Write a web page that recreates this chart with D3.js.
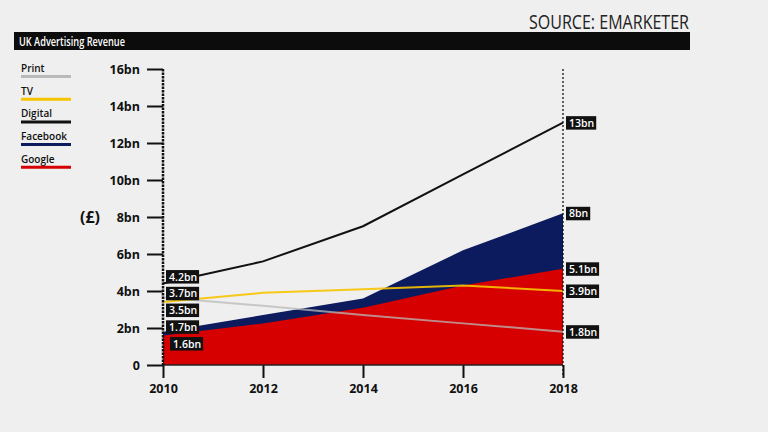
<!DOCTYPE html>
<html>
<head>
<meta charset="utf-8">
<script src="https://cdn.jsdelivr.net/npm/d3@7"></script>
<style>
  html, body { margin: 0; padding: 0; background: #efefef; }
  svg { display: block; }
  text { font-family: "Open Sans", "DejaVu Sans", sans-serif; }
</style>
</head>
<body>
<svg id="chart" width="768" height="432"></svg>
<script>
// ---------- DATA ----------
const years = [2010, 2012, 2014, 2016, 2018];
const printRev    = [3.65, 3.2, 2.7, 2.25, 1.8];
const tvRev       = [3.4, 3.9, 4.1, 4.3, 4.0];
const digitalRev  = [4.4, 5.6, 7.5, 10.3, 13.1];
const facebookRev = [1.8, 2.7, 3.6, 6.2, 8.2];
const googleRev   = [1.6, 2.25, 3.1, 4.3, 5.2];

const seriesNames = ["Print", "TV", "Digital", "Facebook", "Google"];
// start / end annotation values (as printed on the chart)
const startLabelsSeries = ["Digital", "TV", "Print", "Facebook", "Google"];
const startLabelValues  = [4.2, 3.7, 3.5, 1.7, 1.6];
const endLabelsSeries   = ["Digital", "Facebook", "Google", "TV", "Print"];
const endLabelValues    = [13, 8, 5.1, 3.9, 1.8];

const yTicks = [0, 2, 4, 6, 8, 10, 12, 14, 16];
const xTicks = [2010, 2012, 2014, 2016, 2018];

const titleText = "UK Advertising Revenue";
const sourceText = "SOURCE: EMARKETER";
const unitText = "(£)";

// ---------- SETUP ----------
const colors = {
  Print: "#b9b9b9",
  TV: "#f6c400",
  Digital: "#111111",
  Facebook: "#0c1a5e",
  Google: "#d60000"
};
const seriesData = {
  Print: printRev, TV: tvRev, Digital: digitalRev, Facebook: facebookRev, Google: googleRev
};

const svg = d3.select("#chart");
svg.append("rect").attr("width", 768).attr("height", 432).attr("fill", "#efefef");

const x = d3.scaleLinear().domain([2010, 2018]).range([163, 563]);
const y = d3.scaleLinear().domain([0, 16]).range([365, 69]);

// Header
svg.append("text")
  .attr("x", 689).attr("y", 29)
  .attr("text-anchor", "end")
  .attr("font-size", 20).attr("font-weight", 400)
  .attr("fill", "#222")
  .attr("textLength", 160).attr("lengthAdjust", "spacingAndGlyphs")
  .text(sourceText);

svg.append("rect").attr("x", 14).attr("y", 32).attr("width", 676).attr("height", 18).attr("fill", "#0c0c0c");
svg.append("text")
  .attr("x", 19).attr("y", 46)
  .attr("font-size", 12.5).attr("font-weight", 600)
  .attr("fill", "#fff")
  .attr("textLength", 106).attr("lengthAdjust", "spacingAndGlyphs")
  .text(titleText);

// Legend
const legend = svg.append("g");
seriesNames.forEach((name, i) => {
  const gy = 68 + i * 22.7;
  legend.append("text")
    .attr("x", 21).attr("y", gy + 3.8)
    .attr("font-size", 10).attr("font-weight", 600)
    .attr("fill", "#111")
    .text(name);
  legend.append("line")
    .attr("x1", 21).attr("x2", 71)
    .attr("y1", gy + 8.5).attr("y2", gy + 8.5)
    .attr("stroke", colors[name]).attr("stroke-width", 3);
});

// Unit label
svg.append("text")
  .attr("x", 90).attr("y", 223)
  .attr("text-anchor", "middle")
  .attr("font-size", 16).attr("font-weight", 700)
  .attr("fill", "#111")
  .text(unitText);

// Areas
const areaGen = d3.area()
  .x((d, i) => x(years[i]))
  .y0(y(0))
  .y1(d => y(d));

svg.append("path").datum(facebookRev).attr("d", areaGen).attr("fill", colors.Facebook);
svg.append("path").datum(googleRev).attr("d", areaGen).attr("fill", colors.Google);

// Lines
const lineGen = d3.line().x((d, i) => x(years[i])).y(d => y(d));
svg.append("path").datum(printRev).attr("d", lineGen)
  .attr("fill", "none").attr("stroke", colors.Print).attr("stroke-width", 2).attr("stroke-opacity", 0.75);
svg.append("path").datum(tvRev).attr("d", lineGen)
  .attr("fill", "none").attr("stroke", colors.TV).attr("stroke-width", 2).attr("stroke-opacity", 0.9);
svg.append("path").datum(digitalRev).attr("d", lineGen)
  .attr("fill", "none").attr("stroke", colors.Digital).attr("stroke-width", 2);

// Y axis
const yAxis = d3.axisLeft(y)
  .tickValues(yTicks)
  .tickSize(16)
  .tickPadding(7)
  .tickFormat(d => d === 0 ? "0" : d + "bn");
const gy = svg.append("g").attr("transform", `translate(${x(2010)},0)`).call(yAxis);
gy.select(".domain").remove();
gy.selectAll(".tick line").attr("stroke", "#111").attr("stroke-width", 2);
gy.selectAll(".tick text")
  .attr("font-family", "'Open Sans', sans-serif")
  .attr("font-size", 12.5).attr("font-weight", 700).attr("fill", "#111");

// X axis
const xAxis = d3.axisBottom(x)
  .tickValues(xTicks)
  .tickSize(13)
  .tickPadding(6)
  .tickFormat(d3.format("d"));
const gx = svg.append("g").attr("transform", `translate(0,${y(0)})`).call(xAxis);
gx.select(".domain").remove();
gx.selectAll(".tick line").attr("stroke", "#111").attr("stroke-width", 2);
gx.selectAll(".tick text")
  .attr("font-family", "'Open Sans', sans-serif")
  .attr("font-size", 12.5).attr("font-weight", 700).attr("fill", "#111");

// baseline
svg.append("line")
  .attr("x1", x(2010)).attr("x2", x(2018))
  .attr("y1", y(0)).attr("y2", y(0))
  .attr("stroke", "#222").attr("stroke-width", 1.5);

// Vertical axis lines (dotted)
svg.append("line")
  .attr("x1", x(2010)).attr("x2", x(2010))
  .attr("y1", y(16)).attr("y2", y(0))
  .attr("stroke", "#111").attr("stroke-width", 2.5).attr("stroke-dasharray", "2.5,1");
svg.append("line")
  .attr("x1", x(2018)).attr("x2", x(2018))
  .attr("y1", y(16)).attr("y2", y(0) + 10)
  .attr("stroke", "#111").attr("stroke-width", 1.3).attr("stroke-dasharray", "2,2");

// Value labels
function addLabel(lx, ly, txt) {
  const g = svg.append("g");
  const t = g.append("text")
    .attr("x", lx + 3).attr("y", ly + 4)
    .attr("font-size", 10.5).attr("font-weight", 600)
    .attr("fill", "#fff")
    .text(txt);
  const w = t.node().getComputedTextLength();
  g.insert("rect", "text")
    .attr("x", lx).attr("y", ly - 6.5)
    .attr("width", w + 5).attr("height", 13.5)
    .attr("fill", "#111");
}
const fmt = v => v + "bn";

// start labels: spread as a stacked cluster centred on the mean start position
const startYs = startLabelsSeries.map(s => y(seriesData[s][0]));
const meanY = d3.mean(startYs);
const gap = 16.75;
startLabelsSeries.forEach((s, i) => {
  const ly = meanY + (i - (startLabelsSeries.length - 1) / 2) * gap;
  addLabel(x(2010) + 3 + (s === "Google" ? 4 : 0), ly, fmt(startLabelValues[i]));
});

// end labels at series end positions
endLabelsSeries.forEach((s, i) => {
  const vals = seriesData[s];
  addLabel(x(2018) + 3, y(vals[vals.length - 1]), fmt(endLabelValues[i]));
});
</script>
</body>
</html>
